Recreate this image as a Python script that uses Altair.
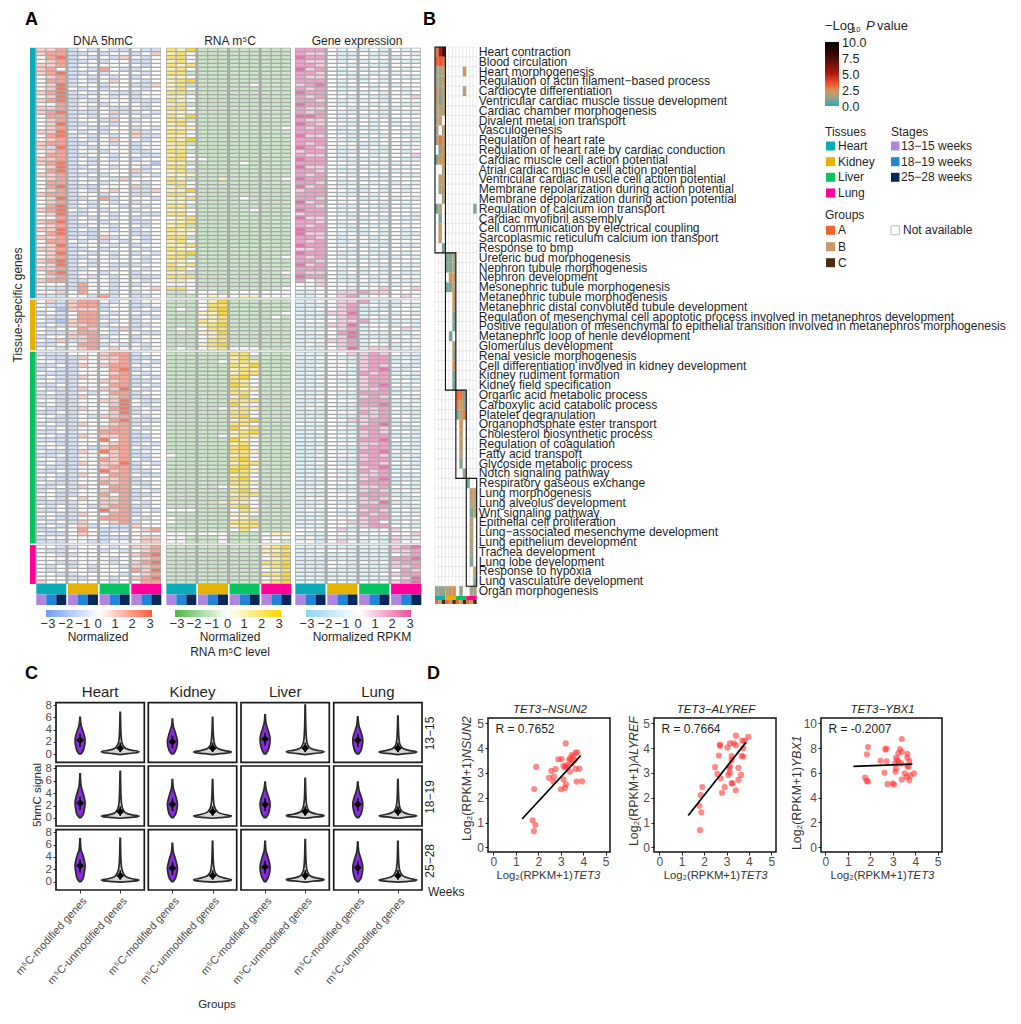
import altair as alt
import pandas as pd

W, H = 1005, 1008
FONT = "Liberation Sans"
INK = "#1f1f1f"
GREY = "#4d4d4d"

TISSUES = ["Heart", "Kidney", "Liver", "Lung"]
TISSUE_COLORS = ["#0bacb8", "#e5b200", "#07c463", "#ff0099"]
STAGES = ["13\u221215 weeks", "18\u221219 weeks", "25\u221228 weeks"]
STAGE_COLORS = ["#b085e0", "#2085d8", "#08285c"]
GROUP_NAMES = ["A", "B", "C"]
GROUP_COLORS = ["#f0642d", "#c8986a", "#4a2a10"]

# Panel A: digit d stands for a normalized value d-3
HMC_HEART = """445232322322 455223233234 356232324323 345223233223 445233333323 453232532233 456223233323 345232323233
355232343323 346233233224 346323233323 456232322233 346223323233 456232333222 335233233323 445232322323
456222342232 355232323323 345233243233 346223323333 345232233232 446323233423 356232323422 345232343323
455223323233 426232333233 345233233223 355223323322 445232323233 456232333331 346223323323 356232333423
445223233232 345232324333 355233233323 356222333423 345232343224 455233233223 346223523332 345232323233
356232332323 456323233233 346223323322 335232323233 456233233223 345223323323 446232323233 356222333223
445232423323 355323232323 346233323233 445223233323 346232323232 345223323323 456232333323 346232322233
445223323323 356233233233 345232323222 455223323323 333253323233 322253323334 334353323233 222332523223""".split()
HMC_KIDNEY = """342455323233 322455233223 331444233232 232355323323 322355233232 321455323233 232445233223 323354324233
322455323322 233445233233 324245323233 223355232323 332345343323""".split()
HMC_LIVER = """222333455233 322243445223 332233345232 223243455323 232233356233 322233345323 232243355232 332233445223
223233355232 322243446323 232232355233 222243345223 332233446322 232233346323 322243356232 223233346233
332232445323 322233356222 232243345233 323233455323 223233555233 332243445223 222233635223 332233345232
233232455323 322243645233 223233345223 332233545323 232243446232 322233455233 223233645223 332243355322
232233445233 322233545223 223243355323 232233455232 332233535223 232343445233 222233445323 323232455223
223233645232 332243355233 232233555323 323243345233 232342322433 223353222345 322343233333 233333222344
222332233344""".split()
HMC_LUNG = """332233323445 322333232345 332233333456 333333323345 332233323456 323232332445 323332333546 332233332345
333223323456 433333323355""".split()

M5C_HEART = """546222222222 453222222222 553222222222 453222222222 545222222222 453222222222 552222222222 443222222222
456222222222 452222223222 453222222222 552222222222 443222222222 543222222222 452222222222 553222222222
443222222222 546222222222 552222222222 453222222222 444222222223 553222222222 443222222222 546222222222
452222222222 443222222222 552222222222 453222222222 553322222222 442222232222 553222222222 452222222222
444222222222 542224222223 553222222222 453222222222 446222222222 553222222222 445222232222 443222222222
552222222222 443222223222 553222222222 345222222222 445222222222 452222222222 544222222222 443222222222
552222222222 453222222222 445222222222 543222222222 456222222222 552222222223 443222222222 545222222222
553222222222 442222222223 555222222222 443222222222 333222222222 553222222223 223332333333 222343344333""".split()
M5C_KIDNEY = """222346222222 222355222222 232356222222 222446222223 222345222232 222545222222 222456222222 232355222222
222446222222 222345222222 222355222222 222456222222 232345333222""".split()
M5C_LIVER = """222222553222 222222452222 222223454222 222222546222 222222454222 222222455222 222222563222 222222543222
222222653222 222222544222 222222553222 222222463222 222222555222 222222643222 222223454222 222222553222
222222563222 222222456222 222222553222 222222645222 222222456222 222223454222 222222643222 222222453222
222222563222 222222554222 322222453222 222222563222 222222455222 222222563222 222222654222 222222453222
222222563222 222222554222 222223453222 222222564222 222222455222 222222553222 222224443222 222222563222
333222354222 222222443222 322222342222 322222555222 222222455222 222222353222 333333222344 332223222333
332223222332""".split()
M5C_LUNG = """222222222456 222222222445 222222222456 222222222345 222222222556 222222222456 222222222345 222222222556
222222222346 222222222456""".split()

GENE_HEART = """555323232323 544322322332 655322323233 544323232322 554332322333 645323232323 554322323233 544332232322
555323232333 456323323233 545322323323 655323232323 545332322334 554323232333 655323323322 544332232233
545322322322 665323232333 544322323233 654332323232 545323223322 555322323333 644332232322 555322323332
545333223323 654323232333 455322322323 544323323334 655322232322 555332323233 644323232323 554322323233
545332322322 655323232333 554322323232 645323232323 455332232323 555322323333 554333223232 645323232323
554322322323 655323232333 455322323332 644332232322 554323232323 545322323333 655332232323 644323232322
554323323323 545322322333 655323232322 445332323333 655322322323 545323232232 554332323333 645322322322
555323232323 544323232322 655322323233 534322322322 334333233233 333332334334 223344544333 223345233343""".split()
GENE_KIDNEY = """223344522233 222345232232 223345222333 222446223232 222345232333 233344522222 222446233232 222345233342
223356222323 222346222232 223445232323 232345233233 222346244222""".split()
GENE_LIVER = """222334454322 223322455222 222332455232 223333454322 222332456223 223322545232 222333455322 223322455232
222332456323 223333445222 222322555233 223322454322 222333555232 223322556223 232322445322 222333545222
222322445332 223334455232 322322456223 222332554322 223322454232 222333455222 223322556322 222333445232
223322455222 222332556323 223333454232 222322455222 223322554332 222333456222 222322545233 223332445322
222322456222 222333555232 223322445322 222322454232 222333555223 233332454322 222322446223 223333555322
232323454232 222322545322 222333455223 223334453232 222332455322 333342323433 322333233334 232322322422
332343232433""".split()
GENE_LUNG = """222222222456 223332222445 222222222345 222222222556 222332323455 222322222445 222222222354 222222223455
222222222346 222322323456""".split()
NORM_TICKS = ["\u22123", "\u22122", "\u22121", "0", "1", "2", "3"]

# Panel B
P_TERMS = ["Heart contraction", "Blood circulation", "Heart morphogenesis",
    "Regulation of actin filament\u2212based process", "Cardiocyte differentiation",
    "Ventricular cardiac muscle tissue development", "Cardiac chamber morphogenesis",
    "Divalent metal ion transport", "Vasculogenesis", "Regulation of heart rate",
    "Regulation of heart rate by cardiac conduction", "Cardiac muscle cell action potential",
    "Atrial cardiac muscle cell action potential", "Ventricular cardiac muscle cell action potential",
    "Membrane repolarization during action potential", "Membrane depolarization during action potential",
    "Regulation of calcium ion transport", "Cardiac myofibril assembly",
    "Cell communication by electrical coupling", "Sarcoplasmic reticulum calcium ion transport",
    "Response to bmp", "Ureteric bud morphogenesis", "Nephron tubule morphogenesis", "Nephron development",
    "Mesonephric tubule morphogenesis", "Metanephric tubule morphogenesis",
    "Metanephric distal convoluted tubule development",
    "Regulation of mesenchymal cell apoptotic process involved in metanephros development",
    "Positive regulation of mesenchymal to epithelial transition involved in metanephros morphogenesis",
    "Metanephric loop of henle development", "Glomerulus development", "Renal vesicle morphogenesis",
    "Cell differentiation involved in kidney development", "Kidney rudiment formation",
    "Kidney field specification", "Organic acid metabolic process", "Carboxylic acid catabolic process",
    "Platelet degranulation", "Organophosphate ester transport", "Cholesterol biosynthetic process",
    "Regulation of coagulation", "Fatty acid transport", "Glycoside metabolic process",
    "Notch signaling pathway", "Respiratory gaseous exchange", "Lung morphogenesis",
    "Lung alveolus development", "Wnt signaling pathway", "Epithelial cell proliferation",
    "Lung\u2212associated mesenchyme development", "Lung epithelium development", "Trachea development",
    "Lung lobe development", "Response to hypoxia", "Lung vasculature development", "Organ morphogenesis"]
P_CELLS = [
    [(0, 2.9), (1, 5.2), (2, 7.2)], [(0, 3.5), (1, 3.6), (2, 3.2)], [(0, 1.4), (1, 1.4), (2, 1.9), (8, 2.0)],
    [(0, 1.6), (1, 1.2), (2, 2.2)], [(0, 2.6), (1, 1.0), (2, 2.0), (8, 1.7)], [(0, 2.3), (1, 0.8), (2, 1.8)],
    [(0, 1.8), (1, 1.7), (2, 1.8)], [(0, 1.6), (1, 2.0)], [(0, 1.4), (2, 1.8)], [(0, 1.4), (1, 3.0), (2, 2.0)],
    [(1, 1.0), (2, 2.4)], [(0, 0.7), (1, 2.5), (2, 2.3)], [(2, 1.8)], [(1, 2.0), (2, 1.8)], [(1, 1.5), (2, 1.8)],
    [(2, 1.6)], [(0, 0.7), (1, 1.8), (11, 1.1)], [(1, 1.0)], [(1, 2.0)], [(1, 2.0)], [(2, 1.0)],
    [(3, 0.9), (4, 1.3), (5, 1.5)], [(3, 1.0), (4, 1.2), (5, 1.5)], [(4, 2.3), (5, 2.3)], [(3, 1.0), (4, 1.0), (5, 1.8)],
    [(5, 2.2)], [(5, 2.0)], [(5, 1.0)], [(5, 1.0)], [(4, 0.9)], [(5, 1.6)], [(5, 1.3)], [(5, 2.5)], [(5, 1.0)], [(5, 0.9)],
    [(6, 3.2), (7, 3.0), (8, 1.0)], [(6, 2.6), (7, 2.2), (8, 1.2)], [(6, 1.0), (7, 2.0), (8, 2.8)], [(7, 2.3)], [(7, 2.0)],
    [(7, 2.0)], [(7, 1.7)], [(7, 1.2)], [(8, 1.4)], [(9, 0.9)], [(10, 2.0), (11, 2.0)], [(10, 1.7), (11, 1.7)],
    [(10, 1.0), (11, 1.8)], [(10, 1.7)], [(10, 1.7)], [(10, 1.6)], [(10, 1.5)], [(10, 1.0)], [(11, 2.1)], [(11, 1.0)],
    [(0, 1.3), (1, 1.3), (2, 1.3), (3, 1.7), (4, 2.4), (5, 2.6), (7, 1.3), (10, 1.5), (11, 1.5)],
]
BOX_COL = [(0, 3), (3, 6), (6, 9), (9, 12)]
BOX_ROW = [(0, 21), (21, 35), (35, 44), (44, 55)]
P_TICKS = ["10.0", "7.5", "5.0", "2.5", "0.0"]

# Panel C: per stage, per tissue
MOD_Y = [
    [[0.05, 0.5, 1.2, 2.3, 3.2, 3.9, 4.6, 5.3, 6.0], [0.05, 0.5, 1.1, 2.05, 2.9, 3.7, 4.4, 5.0, 5.7],
     [0.05, 0.6, 1.3, 2.5, 3.4, 4.1, 4.9, 5.6, 6.4], [0.05, 0.5, 1.2, 2.3, 3.2, 3.9, 4.6, 5.4, 6.1]],
    [[0.05, 0.5, 1.3, 2.4, 3.4, 4.2, 5.0, 6.0, 7.1], [0.05, 0.5, 1.2, 2.2, 3.1, 3.9, 4.6, 5.4, 6.2],
     [0.05, 0.5, 1.2, 2.2, 3.1, 3.8, 4.5, 5.2, 5.8], [0.05, 0.5, 1.2, 2.2, 3.1, 3.8, 4.5, 5.2, 5.8]],
    [[0.05, 0.5, 1.4, 2.6, 3.6, 4.4, 5.0, 5.9, 6.9], [0.05, 0.5, 1.2, 2.2, 3.1, 3.9, 4.6, 5.4, 6.2],
     [0.05, 0.6, 1.3, 2.4, 3.3, 4.1, 4.8, 5.6, 6.5], [0.05, 0.5, 1.2, 2.3, 3.2, 4.0, 4.7, 5.5, 6.4]],
]
MOD_W = [0.02, 0.07, 0.105, 0.125, 0.10, 0.065, 0.03, 0.013, 0.006]
MOD_MED = [[2.3, 2.05, 2.5, 2.3], [2.4, 2.2, 2.2, 2.2], [2.6, 2.2, 2.4, 2.3]]
UN_Y = [
    [[-0.05, 0.1, 0.3, 0.45, 0.65, 0.95, 1.4, 2.0, 3.0, 4.6, 6.8], [-0.05, 0.1, 0.25, 0.4, 0.6, 0.9, 1.3, 1.9, 2.9, 4.2, 6.0],
     [-0.05, 0.1, 0.3, 0.45, 0.65, 0.95, 1.4, 2.1, 3.3, 5.2, 8.0], [-0.05, 0.1, 0.25, 0.4, 0.6, 0.9, 1.3, 1.9, 2.9, 4.3, 6.2]],
    [[-0.05, 0.05, 0.2, 0.3, 0.5, 0.8, 1.3, 2.0, 3.1, 5.0, 7.5], [-0.05, 0.05, 0.2, 0.3, 0.55, 0.9, 1.4, 2.0, 3.0, 4.4, 6.2],
     [-0.05, 0.1, 0.25, 0.4, 0.6, 0.9, 1.3, 2.0, 3.0, 4.5, 6.4], [-0.05, 0.1, 0.25, 0.35, 0.55, 0.9, 1.3, 1.9, 2.9, 4.4, 6.2]],
    [[-0.05, 0.05, 0.2, 0.3, 0.5, 0.85, 1.4, 2.1, 3.1, 4.8, 7.0], [-0.05, 0.05, 0.2, 0.35, 0.6, 0.95, 1.4, 2.0, 3.0, 4.5, 6.5],
     [-0.05, 0.1, 0.25, 0.4, 0.6, 0.9, 1.4, 2.0, 3.1, 4.7, 6.8], [-0.05, 0.05, 0.2, 0.3, 0.55, 0.9, 1.4, 2.0, 3.0, 4.5, 6.5]],
]
UN_W = [0.0, 0.18, 0.43, 0.47, 0.3, 0.14, 0.075, 0.04, 0.022, 0.012, 0.005]
UN_MED = 1.0
WEEKS = ["13\u221215", "18\u221219", "25\u221228"]
VIOLIN_NAMES = ["m\u2075C-modified genes", "m\u2075C-unmodified genes"]

# Panel D
D1_X = [3.22, 1.91, 1.82, 1.75, 1.87, 1.81, 2.48, 2.58, 2.77, 2.7, 2.67, 2.89, 3.04, 3.41, 3.12, 3.01, 3.19, 3.23, 3.71, 3.95,
        3.12, 3.19, 3.29, 3.41, 3.66, 3.83, 3.49, 3.56, 3.66, 3.74, 3.62, 3.38, 3.26, 3.49]
D1_Y = [4.19, 3.24, 2.35, 1.09, 0.9, 0.65, 2.8, 3.08, 3.15, 2.85, 2.65, 3.55, 3.56, 3.59, 2.74, 2.34, 2.39, 2.54, 2.65, 2.66,
        3.28, 3.23, 3.23, 3.05, 3.16, 3.17, 3.39, 3.66, 3.82, 3.82, 3.52, 3.52, 3.32, 3.72]
D2_X = [3.42, 3.97, 3.71, 3.82, 3.15, 3.33, 3.42, 2.71, 2.71, 3.04, 2.66, 3.23, 3.23, 3.68, 3.75, 2.49, 3.13, 3.53, 3.15, 2.59,
        2.74, 3.08, 3.65, 3.53, 3.27, 2.92, 3.41, 2.8, 1.92, 1.85, 1.79, 1.88, 1.82, 3.23, 3.15, 3.75]
D2_Y = [4.5, 4.45, 4.3, 4.29, 4.19, 4.19, 4.11, 4.09, 4.14, 4.02, 3.7, 3.68, 3.52, 3.68, 3.66, 3.23, 3.19, 3.2, 3.01, 2.96,
        2.78, 2.92, 2.92, 2.72, 2.58, 2.43, 2.3, 2.2, 2.43, 2.11, 1.68, 1.41, 0.69, 2.58, 3.28, 3.99]
D3_X = [3.4, 1.9, 1.85, 2.67, 2.72, 3.32, 3.4, 3.65, 3.25, 3.65, 3.15, 2.46, 2.73, 3.2, 3.25, 3.74, 3.1, 3.38, 3.71, 3.65,
        3.15, 2.63, 3.12, 3.53, 3.95, 3.78, 3.62, 1.77, 3.4, 3.74, 1.84, 1.9, 3.0, 2.77, 3.06]
D3_Y = [8.73, 8.08, 7.49, 7.89, 7.95, 7.92, 7.7, 7.54, 7.57, 7.22, 7.22, 6.97, 6.92, 7.03, 6.89, 6.95, 6.76, 6.76, 6.49, 6.54,
        6.35, 6.0, 6.08, 5.95, 5.95, 5.81, 5.68, 5.62, 5.46, 5.41, 5.35, 5.3, 5.14, 5.08, 5.05]
FIT_X = [[1.28, 3.89], [1.29, 3.87], [1.25, 3.87]]
FIT_Y = [[1.14, 3.7], [1.28, 4.23], [6.51, 6.7]]
R_TEXT = ["R = 0.7652", "R = 0.7664", "R = -0.2007"]
D_GENES = ["NSUN2", "ALYREF", "YBX1"]

layers = []


def px(v):
    return v - 8


def one():
    return alt.Data(values=[{"k": 1}])


def tx(t, x, y, size=12, align="left", color=INK, angle=None, style=None, weight=None, baseline="middle"):
    kw = dict(align=align, baseline=baseline, fontSize=size, font=FONT, color=color)
    if angle is not None:
        kw["angle"] = angle
    if style:
        kw["fontStyle"] = style
    if weight:
        kw["fontWeight"] = weight
    layers.append(alt.Chart(one()).mark_text(**kw).encode(
        x=alt.value(px(x)), y=alt.value(px(y)), text=alt.value(t)))


def box(x0, x1, y0, y1, fill=None, stroke=None, sw=1.0):
    kw = {}
    if fill:
        kw["color"] = fill
    else:
        kw["fillOpacity"] = 0
    if stroke:
        kw["stroke"] = stroke
        kw["strokeWidth"] = sw
    else:
        kw["strokeWidth"] = 0
    layers.append(alt.Chart(one()).mark_rect(**kw).encode(
        x=alt.value(px(x0)), x2=alt.value(px(x1)), y=alt.value(px(y0)), y2=alt.value(px(y1))))


def lin(d0, d1, r0, r1):
    return alt.Scale(domain=[d0, d1], range=[px(r0), px(r1)], nice=False, zero=False)


# ---------- Panel A ----------
A_TOP, A_BOTTOM = 47.7, 584.0
BLOCK_GAP = 0.35
COL_GAP = 0.17
COL_TOTAL = 12 + 3 * COL_GAP
block_sizes = [64, 13, 49, 10]
Y_TOTAL = sum(block_sizes) + BLOCK_GAP * 3
block_start = [0, 64 + BLOCK_GAP, 77 + 2 * BLOCK_GAP, 126 + 3 * BLOCK_GAP]
scale_y_a = lin(0, Y_TOTAL, A_TOP, A_BOTTOM)


def heat(blocks, left, right, low, high, leg_left, leg_len, tick_x):
    sx = lin(0, COL_TOTAL, left, right)
    bg = pd.DataFrame({"y0": block_start, "y1": [s + n for s, n in zip(block_start, block_sizes)],
                       "x0": [0] * 4, "x1": [COL_TOTAL] * 4})
    layers.append(alt.Chart(bg).mark_rect(color="#a9a9a9", strokeWidth=0).encode(
        x=alt.X("x0:Q", scale=sx, axis=None), x2="x1:Q",
        y=alt.Y("y0:Q", scale=scale_y_a, axis=None), y2="y1:Q"))
    recs = []
    for b, rows in enumerate(blocks):
        for r, row in enumerate(rows):
            for c, ch in enumerate(row):
                g = c // 3
                x0 = c + COL_GAP * g + 0.07
                y0 = block_start[b] + r + 0.18
                recs.append({"x0": round(x0, 2), "x1": round(x0 + 0.87, 2),
                             "y0": round(y0, 2), "y1": round(y0 + 0.64, 2), "v": (int(ch) - 3) * 0.85})
    layers.append(alt.Chart(pd.DataFrame(recs)).mark_rect(strokeWidth=0).encode(
        x=alt.X("x0:Q", scale=sx, axis=None), x2="x1:Q",
        y=alt.Y("y0:Q", scale=scale_y_a, axis=None), y2="y1:Q",
        color=alt.Color("v:Q", scale=alt.Scale(domain=[-3, 0, 3], range=[low, "#ffffff", high], interpolate="rgb"),
                        legend=alt.Legend(orient="none", legendX=px(leg_left), legendY=px(610), direction="horizontal",
                                          gradientLength=leg_len, gradientThickness=7, title=None, values=[-3, 0, 3],
                                          labelExpr="''", gradientStrokeWidth=0, padding=0))))
    for t, xx in zip(NORM_TICKS, tick_x):
        tx(t, xx, 624, 13, "center", color="#333333")
    strip_y = lin(0, 2, A_BOTTOM, 605)
    ts = pd.DataFrame({"t": TISSUES, "x0": [(COL_GAP + 3) * i + 0.03 for i in range(4)],
                       "x1": [(COL_GAP + 3) * i + 3.03 for i in range(4)], "y0": [0] * 4, "y1": [1] * 4})
    layers.append(alt.Chart(ts).mark_rect(strokeWidth=0).encode(
        x=alt.X("x0:Q", scale=sx, axis=None), x2="x1:Q",
        y=alt.Y("y0:Q", scale=strip_y, axis=None), y2="y1:Q",
        color=alt.Color("t:N", scale=alt.Scale(domain=TISSUES, range=TISSUE_COLORS), legend=None)))
    ss = pd.DataFrame([{"s": STAGES[c % 3], "x0": c + COL_GAP * (c // 3) + 0.03, "x1": c + COL_GAP * (c // 3) + 1.03,
                        "y0": 1, "y1": 2} for c in range(12)])
    layers.append(alt.Chart(ss).mark_rect(strokeWidth=0).encode(
        x=alt.X("x0:Q", scale=sx, axis=None), x2="x1:Q",
        y=alt.Y("y0:Q", scale=strip_y, axis=None), y2="y1:Q",
        color=alt.Color("s:N", scale=alt.Scale(domain=STAGES, range=STAGE_COLORS), legend=None)))


heat([HMC_HEART, HMC_KIDNEY, HMC_LIVER, HMC_LUNG], 36, 161, "#6f9cf2", "#ff5a3c", 46, 106,
     [48, 65.7, 82.7, 98, 115, 132, 150])
heat([M5C_HEART, M5C_KIDNEY, M5C_LIVER, M5C_LUNG], 166, 291, "#4db845", "#ffd400", 175, 106,
     [177, 194, 211.7, 227.7, 244, 261.7, 279])
heat([GENE_HEART, GENE_KIDNEY, GENE_LIVER, GENE_LUNG], 295, 421, "#8ed4ef", "#e8559f", 306, 105,
     [307, 325, 342, 358, 375, 392, 410])

side = pd.DataFrame({"t": TISSUES, "y0": block_start, "y1": [s + n for s, n in zip(block_start, block_sizes)]})
layers.append(alt.Chart(side).mark_rect(strokeWidth=0).encode(
    x=alt.value(px(30)), x2=alt.value(px(35.7)),
    y=alt.Y("y0:Q", scale=scale_y_a, axis=None), y2="y1:Q",
    color=alt.Color("t:N", scale=alt.Scale(domain=TISSUES, range=TISSUE_COLORS), legend=None)))

tx("A", 25, 20, 18, weight="bold", color="#000000")
tx("B", 423, 20, 18, weight="bold", color="#000000")
tx("C", 25, 674, 18, weight="bold", color="#000000")
tx("D", 427, 674, 18, weight="bold", color="#000000")
tx("DNA 5hmC", 103, 41, 12, "center")
tx("RNA m\u2075C", 230, 41, 12, "center")
tx("Gene expression", 357, 41, 12, "center")
tx("Tissue-specific genes", 18, 305, 12, "center", angle=270)
tx("Normalized", 98, 637, 12, "center")
tx("Normalized", 230, 637, 12, "center")
tx("RNA m\u2075C level", 230, 652, 12, "center")
tx("Normalized RPKM", 362, 637, 12, "center")

# ---------- Panel B ----------
B_L, B_R, B_T, B_B = 435, 476.7, 47, 596
col_ids = list(range(12))
sx_b = alt.Scale(domain=col_ids, range=[px(B_L), px(B_R)], paddingInner=0, paddingOuter=0)
sy_b = alt.Scale(domain=P_TERMS, range=[px(B_T), px(B_B)], paddingInner=0, paddingOuter=0)
grid = pd.DataFrame([{"c": c, "term": t} for t in P_TERMS for c in col_ids])
layers.append(alt.Chart(grid).mark_rect(color="#ffffff", stroke="#e2e2e2", strokeWidth=0.6).encode(
    x=alt.X("c:O", scale=sx_b, axis=None),
    y=alt.Y("term:N", scale=sy_b, sort=P_TERMS,
            axis=alt.Axis(orient="right", offset=-(W - px(B_R)), domain=False, ticks=False, title=None, labelFontSize=12.08,
                          labelFont=FONT, labelColor=INK, labelLimit=900, labelPadding=1.5, labelOverlap=False))))
p_rec = pd.DataFrame([{"c": c, "term": P_TERMS[i], "p": v} for i, row in enumerate(P_CELLS) for c, v in row])
layers.append(alt.Chart(p_rec).mark_rect(strokeWidth=0).encode(
    x=alt.X("c:O", scale=sx_b, axis=None),
    y=alt.Y("term:N", scale=sy_b, sort=P_TERMS, axis=None),
    color=alt.Color("p:Q", scale=alt.Scale(domain=[0, 1, 1.7, 2.5, 3.5, 5, 7.5, 10],
                                           range=["#2aa7b0", "#7da596", "#b3a27c", "#d9904f", "#f0552f", "#b01a10", "#4a0a05", "#000000"],
                                           interpolate="rgb"),
                    legend=alt.Legend(orient="none", legendX=px(825), legendY=px(42), direction="vertical", title=None,
                                      gradientLength=64, gradientThickness=14, values=[0, 10], labelExpr="''",
                                      gradientStrokeWidth=0, padding=0))))
for t, yy in zip(P_TICKS, [43, 59, 74.5, 90.5, 107]):
    tx(t, 842, yy, 12.5)
boxes = pd.DataFrame({"x0": [b[0] for b in BOX_COL], "x1": [b[1] for b in BOX_COL],
                      "y0": [b[0] for b in BOX_ROW], "y1": [b[1] for b in BOX_ROW]})
layers.append(alt.Chart(boxes).mark_rect(fillOpacity=0, stroke="#111111", strokeWidth=1.1).encode(
    x=alt.X("x0:Q", scale=lin(0, 12, B_L, B_R), axis=None), x2="x1:Q",
    y=alt.Y("y0:Q", scale=lin(0, 56, B_T, B_B), axis=None), y2="y1:Q"))
b_t = pd.DataFrame({"t": TISSUES, "x0": [0, 3, 6, 9], "x1": [3, 6, 9, 12], "y0": [0] * 4, "y1": [1] * 4})
sy_strip = lin(0, 2, 596, 604)
layers.append(alt.Chart(b_t).mark_rect(strokeWidth=0).encode(
    x=alt.X("x0:Q", scale=lin(0, 12, B_L, B_R), axis=None), x2="x1:Q",
    y=alt.Y("y0:Q", scale=sy_strip, axis=None), y2="y1:Q",
    color=alt.Color("t:N", scale=alt.Scale(domain=TISSUES, range=TISSUE_COLORS), legend=None)))
b_g = pd.DataFrame([{"g": GROUP_NAMES[c % 3], "x0": c, "x1": c + 1, "y0": 1, "y1": 2} for c in col_ids])
layers.append(alt.Chart(b_g).mark_rect(strokeWidth=0).encode(
    x=alt.X("x0:Q", scale=lin(0, 12, B_L, B_R), axis=None), x2="x1:Q",
    y=alt.Y("y0:Q", scale=sy_strip, axis=None), y2="y1:Q",
    color=alt.Color("g:N", scale=alt.Scale(domain=GROUP_NAMES, range=GROUP_COLORS), legend=None)))

# legends of B
tx("\u2212Log", 825, 25.5, 13)
tx("10", 852, 30, 7.5)
tx("P", 866, 25.5, 13, style="italic")
tx("value", 877, 25.5, 13)
tx("Tissues", 825, 132, 12)
tx("Stages", 891, 132, 12)
tx("Groups", 825, 215, 12)
for i, (n, c, y) in enumerate(zip(TISSUES, TISSUE_COLORS, [146, 161.7, 177.3, 193])):
    box(826, 835, y - 4.5, y + 4.5, fill=c)
    tx(n, 838, y, 12)
for n, c, y in zip(STAGES, STAGE_COLORS, [146, 161.7, 177.3]):
    box(891, 899.5, y - 4.5, y + 4.5, fill=c)
    tx(n, 901, y, 12)
for n, c, y in zip(GROUP_NAMES, GROUP_COLORS, [230.3, 246.7, 262.7]):
    box(826, 835, y - 4.5, y + 4.5, fill=c)
    tx(n, 838, y, 12)
box(891, 899.5, 225.8, 234.8, stroke="#bdbdbd", sw=1)
tx("Not available", 903, 230.3, 12)

# ---------- Panel C ----------
C_X = [(56, 144.3), (148.3, 236.7), (241, 329.3), (333.7, 422)]
C_Y = [(702.7, 762.3), (766, 826), (829.7, 890)]
for r, (yt, yb) in enumerate(C_Y):
    sy = lin(-1.3, 8.38, yb, yt)
    tx(WEEKS[r], 430, (yt + yb) / 2 + 1, 12, "center", angle=270)
    for c, (xl, xr) in enumerate(C_X):
        sx = lin(0.4, 2.6, xl, xr)
        rec = []
        for yy, ww in zip(MOD_Y[r][c], MOD_W):
            rec.append({"v": "mod", "y": yy, "a": 1 - ww, "b": 1 + ww})
        for yy, ww in zip(UN_Y[r][c], UN_W):
            rec.append({"v": "un", "y": yy, "a": 2 - ww, "b": 2 + ww})
        xax = alt.Axis(orient="bottom", values=[1, 2], title=None, labelAngle=312, labelAlign="right", labelBaseline="top",
                       labelExpr="datum.value == 1 ? '%s' : '%s'" % tuple(VIOLIN_NAMES), labelFontSize=11,
                       labelFont=FONT, labelColor=GREY, tickSize=3, tickColor="#333333", domain=False, grid=False,
                       offset=px(yb) - H, labelPadding=2, labelOverlap=False) if r == 2 else None
        yax = alt.Axis(orient="left", values=[0, 2, 4, 6, 8], title=None, labelFontSize=11.5, labelFont=FONT, labelColor=GREY,
                       tickSize=3, tickColor="#333333", domain=False, grid=False, offset=-px(xl), labelPadding=1.5) if c == 0 else None
        layers.append(alt.Chart(pd.DataFrame(rec)).mark_area(orient="horizontal", stroke="#2a2a2a", strokeWidth=1.7,
                                                             interpolate="monotone").encode(
            x=alt.X("a:Q", scale=sx, axis=xax), x2="b:Q",
            y=alt.Y("y:Q", scale=sy, axis=yax, sort=None),
            detail="v:N",
            color=alt.Color("v:N", scale=alt.Scale(domain=["mod", "un"], range=["#8a2be2", "#d6d6d6"]), legend=None)))
        med = MOD_MED[r][c]
        inner = pd.DataFrame({"x": [1, 2], "lo": [med - 1.1, 0.35], "hi": [med + 1.0, 1.9], "m": [med, UN_MED]})
        layers.append(alt.Chart(inner).mark_rule(color="#111111", strokeWidth=1.7).encode(
            x=alt.X("x:Q", scale=sx, axis=None), y=alt.Y("lo:Q", scale=sy, axis=None), y2="hi:Q"))
        layers.append(alt.Chart(inner).mark_point(shape="diamond", filled=True, color="#000000", size=60, opacity=1).encode(
            x=alt.X("x:Q", scale=sx, axis=None), y=alt.Y("m:Q", scale=sy, axis=None)))
        box(xl, xr, yt, yb, stroke="#1a1a1a", sw=1.7)
for (xl, xr), n in zip(C_X, TISSUES):
    tx(n, (xl + xr) / 2, 692, 15, "center")
tx("5hmC signal", 38, 795, 11.5, "center", angle=270)
tx("Groups", 217, 1005, 11.5, "center")
tx("Weeks", 428, 892, 12)

# ---------- Panel D ----------
D_FRAMES = [(488, 610, 493.3, 605.7), (654, 776, 659.3, 771.3), (821, 942, 825.3, 937.7)]
D_Y_SCALES = [(5, 847.3, 723.3), (5, 847.3, 723.3), (10, 847, 723.3)]
D_XS = [D1_X, D2_X, D3_X]
D_YS = [D1_Y, D2_Y, D3_Y]
D_YT = [467, 634, 797]
D_YJ = [758, 763, 767]
D_XJ = [572.7, 740, 906.7]
D_T, D_B = 718, 852
for i in range(3):
    xl, xr, x0, x5 = D_FRAMES[i]
    top, y0, yt = D_Y_SCALES[i]
    ux = (x5 - x0) / 5
    uy = (y0 - yt) / top
    sx = lin((xl - x0) / ux, (xr - x0) / ux, xl, xr)
    sy = lin((y0 - D_B) / uy, (y0 - D_T) / uy, D_B, D_T)
    pts = pd.DataFrame({"x": D_XS[i], "y": D_YS[i]})
    yvals = [0, 1, 2, 3, 4, 5] if top == 5 else [0, 2, 4, 6, 8, 10]
    layers.append(alt.Chart(pts).mark_circle(color="#ff3333", opacity=0.58, size=38).encode(
        x=alt.X("x:Q", scale=sx, axis=alt.Axis(orient="bottom", values=[0, 1, 2, 3, 4, 5], title=None, labelFontSize=12, labelFont=FONT,
                                              labelColor=GREY, tickSize=3, tickColor="#222222", domain=False, grid=False,
                                              offset=px(D_B) - H, labelPadding=1.5, format="d", labelFlush=False)),
        y=alt.Y("y:Q", scale=sy, axis=alt.Axis(orient="left", values=yvals, title=None, labelFontSize=12, labelFont=FONT, labelColor=GREY,
                                              tickSize=3, tickColor="#222222", domain=False, grid=False, offset=-px(xl),
                                              labelPadding=1.5, format="d"))))
    fit = pd.DataFrame({"x": FIT_X[i], "y": FIT_Y[i]})
    layers.append(alt.Chart(fit).mark_line(color="#000000", strokeWidth=1.7).encode(
        x=alt.X("x:Q", scale=sx, axis=None), y=alt.Y("y:Q", scale=sy, axis=None)))
    box(xl, xr, D_T, D_B, stroke="#111111", sw=1.5)
    tx("TET3\u2212" + D_GENES[i], (xl + xr) / 2 + 1, 710, 11.5, "center", style="italic")
    tx(R_TEXT[i], xl + 7.5, 729, 12)
    tx("Log\u2082(RPKM+1)", D_XJ[i], 876, 11.3, "right", color="#333333")
    tx("TET3", D_XJ[i], 876, 11.3, "left", style="italic", color="#333333")
    tx("Log\u2082(RPKM+1)", D_YT[i], D_YJ[i], 12.3, "right", angle=270, color="#333333")
    tx(D_GENES[i], D_YT[i], D_YJ[i], 12.3, "left", angle=270, style="italic", color="#333333")

chart = alt.layer(*layers).resolve_scale(x="independent", y="independent", color="independent").properties(
    width=W, height=H, padding=0, autosize=alt.AutoSizeParams(type="none"), background="#ffffff"
).configure_view(stroke=None)

chart.save("out.html", embed_options={"renderer": "svg", "actions": False})
